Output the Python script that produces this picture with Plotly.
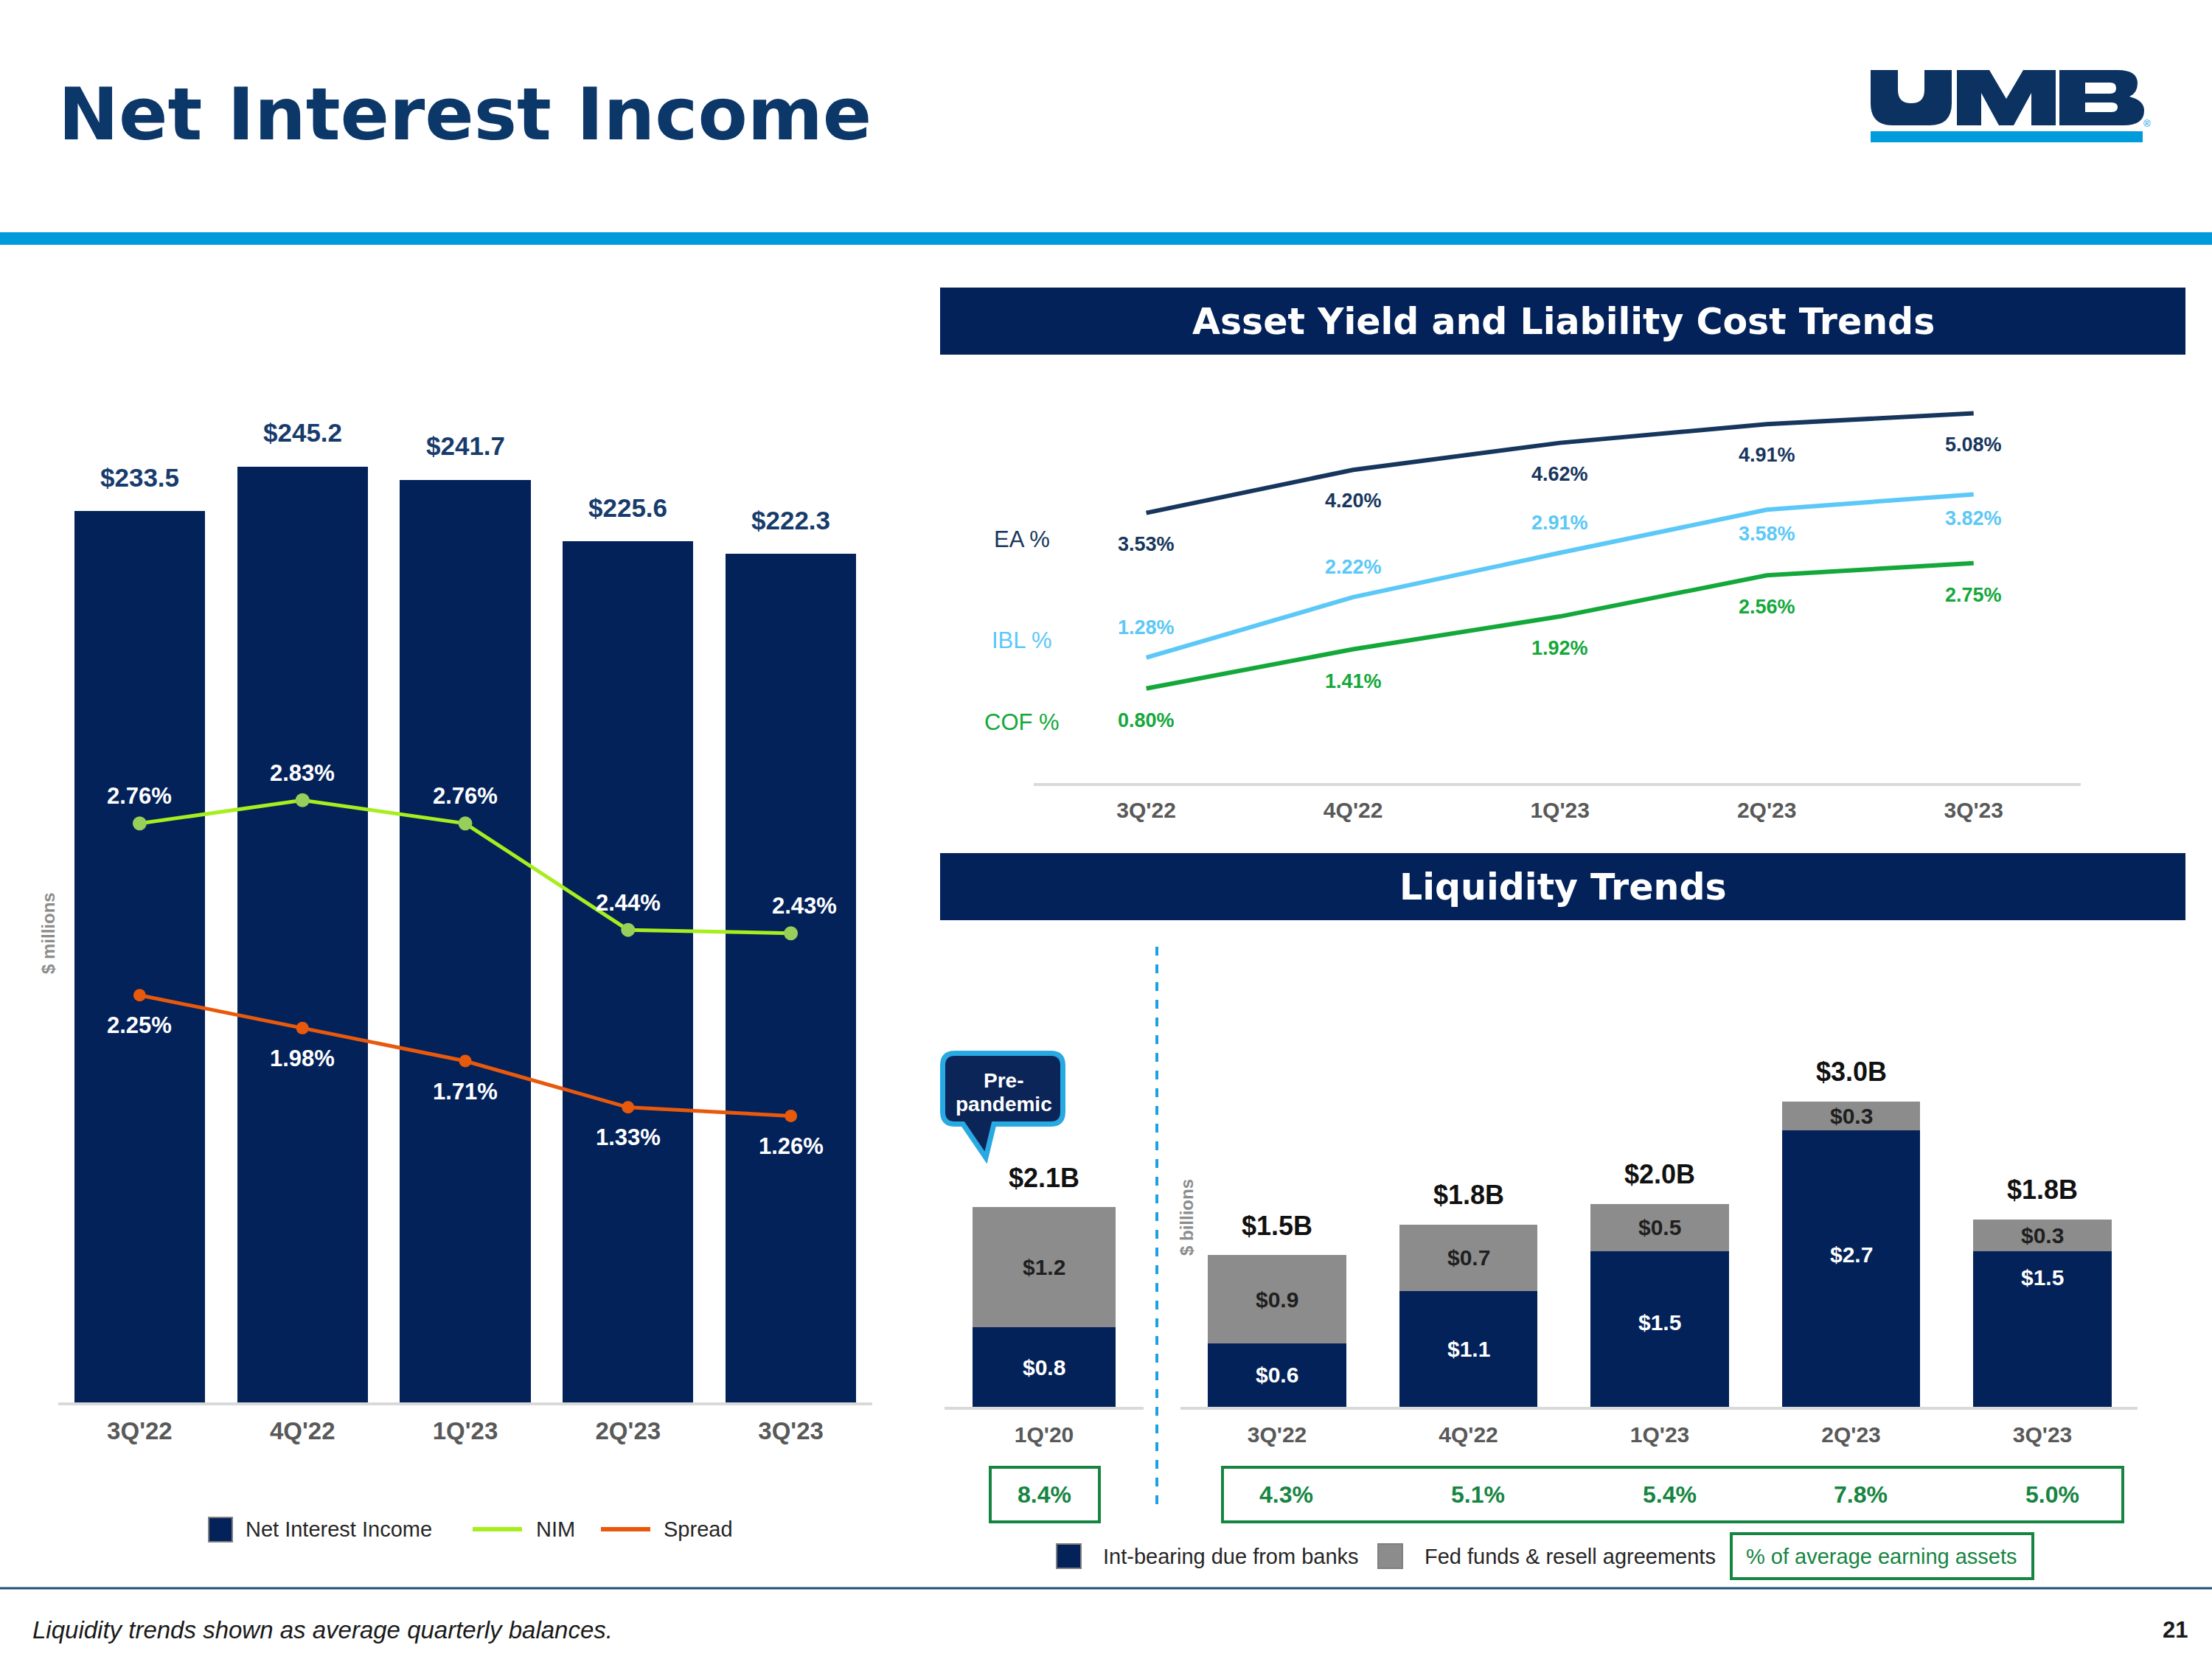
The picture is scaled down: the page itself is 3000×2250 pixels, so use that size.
import plotly.graph_objects as go

W, H = 3000, 2250

# ---------------- data ----------------
quarters = ["3Q'22", "4Q'22", "1Q'23", "2Q'23", "3Q'23"]
net_interest_income = [233.5, 245.2, 241.7, 225.6, 222.3]
nim_pct = [2.76, 2.83, 2.76, 2.44, 2.43]
spread_pct = [2.25, 1.98, 1.71, 1.33, 1.26]

ea_pct = [3.53, 4.20, 4.62, 4.91, 5.08]
ibl_pct = [1.28, 2.22, 2.91, 3.58, 3.82]
cof_pct = [0.80, 1.41, 1.92, 2.56, 2.75]

pre_quarter = ["1Q'20"]
pre_int_bearing = [0.83]
pre_fed_funds = [1.26]
pre_int_labels = ["$0.8"]
pre_fed_labels = ["$1.2"]
pre_total_labels = ["$2.1B"]
pre_pct_avg_earning = [8.4]

liq_int_bearing = [0.62, 1.13, 1.52, 2.70, 1.52]
liq_fed_funds = [0.86, 0.65, 0.46, 0.28, 0.31]
liq_int_labels = ["$0.6", "$1.1", "$1.5", "$2.7", "$1.5"]
liq_fed_labels = ["$0.9", "$0.7", "$0.5", "$0.3", "$0.3"]
liq_total_labels = ["$1.5B", "$1.8B", "$2.0B", "$3.0B", "$1.8B"]
liq_pct_avg_earning = [4.3, 5.1, 5.4, 7.8, 5.0]

# ---------------- styles ----------------
NAVY = "#03225A"
GREY_BAR = "#8C8C8C"
LIME = "#A6EE1E"
LIME_MK = "#97CF5A"
ORANGE = "#E8590C"
EA_C = "#17365D"
IBL_C = "#5CC8F7"
COF_C = "#14A83B"
BOX_GREEN = "#178542"
AXIS_GREY = "#D9D9D9"
TICK_GREY = "#595959"
LOGO_NAVY = "#0B3261"
BRIGHT_BLUE = "#009BDA"
FONT = "Liberation Sans, Arial, sans-serif"
HEAVY = "DejaVu Sans, sans-serif"


def px(x):
    return x / W


def py(y):
    return 1 - y / H


fig = go.Figure()

# ---- Net interest income (left) ----
fig.add_trace(go.Bar(x=quarters, y=net_interest_income, xaxis="x", yaxis="y",
                     marker=dict(color=NAVY, line=dict(width=0)), width=0.802,
                     hoverinfo="skip"))
fig.add_trace(go.Scatter(x=quarters, y=nim_pct, xaxis="x", yaxis="y2", mode="lines+markers",
                         line=dict(color=LIME, width=5), marker=dict(size=19, color=LIME_MK),
                         hoverinfo="skip"))
fig.add_trace(go.Scatter(x=quarters, y=spread_pct, xaxis="x", yaxis="y3", mode="lines+markers",
                         line=dict(color=ORANGE, width=5), marker=dict(size=17, color=ORANGE),
                         hoverinfo="skip"))

# ---- Asset yield / liability cost ----
for vals, col in [(ea_pct, EA_C), (ibl_pct, IBL_C), (cof_pct, COF_C)]:
    fig.add_trace(go.Scatter(x=quarters, y=vals, xaxis="x2", yaxis="y4", mode="lines",
                             line=dict(color=col, width=6), hoverinfo="skip"))

# ---- Liquidity ----
fig.add_trace(go.Bar(x=pre_quarter, y=pre_int_bearing, xaxis="x3", yaxis="y5",
                     marker=dict(color=NAVY, line=dict(width=0)), width=0.722, hoverinfo="skip"))
fig.add_trace(go.Bar(x=pre_quarter, y=pre_fed_funds, xaxis="x3", yaxis="y5",
                     marker=dict(color=GREY_BAR, line=dict(width=0)), width=0.722, hoverinfo="skip"))
fig.add_trace(go.Bar(x=quarters, y=liq_int_bearing, xaxis="x4", yaxis="y6",
                     marker=dict(color=NAVY, line=dict(width=0)), width=0.724, hoverinfo="skip"))
fig.add_trace(go.Bar(x=quarters, y=liq_fed_funds, xaxis="x4", yaxis="y6",
                     marker=dict(color=GREY_BAR, line=dict(width=0)), width=0.724, hoverinfo="skip"))


def xax(domain, rng, anchor, standoff, size=32):
    return dict(domain=domain, range=rng, anchor=anchor, type="category", showline=True,
                linecolor=AXIS_GREY, linewidth=4, ticks="", showgrid=False, zeroline=False,
                tickfont=dict(family=FONT, size=size, color=TICK_GREY, weight="bold"),
                ticklabelstandoff=standoff, fixedrange=True)


def yax(domain, rng, anchor=None, overlaying=None):
    d = dict(range=rng, visible=False, showgrid=False, zeroline=False, fixedrange=True)
    if domain is not None:
        d["domain"] = domain
    if anchor:
        d["anchor"] = anchor
    if overlaying:
        d["overlaying"] = overlaying
    return d


left_dom_y = [py(1902), py(555)]
fig.update_layout(
    xaxis=xax([px(79), px(1183)], [-0.5, 4.5], "y", 6, 33),
    yaxis=yax(left_dom_y, [0, 260.19], anchor="x"),
    yaxis2=yax(None, [1.019, 4.0058], overlaying="y"),
    yaxis3=yax(None, [-1.091, 7.058], overlaying="y"),
    xaxis2=xax([px(1402.4), px(2822.3)], [-0.5426, 4.519], "y4", 7, 30),
    yaxis4=yax([py(1061.6), py(536)], [-0.666, 5.361], anchor="x2"),
    xaxis3=xax([px(1281), px(1551)], [-0.5, 0.5], "y5", 8, 30),
    yaxis5=yax([py(1908), py(1290)], [0, 4.7685], anchor="x3"),
    xaxis4=xax([px(1601), px(2899)], [-0.5048, 4.497], "y6", 8, 30),
    yaxis6=yax([py(1908), py(1290)], [0, 4.446], anchor="x4"),
)

shapes = []
ann = []


def rect(x0, y0, x1, y1, fill=None, line_color=None, lw=0):
    shapes.append(dict(type="rect", xref="paper", yref="paper", x0=px(x0), x1=px(x1),
                       y0=py(y1), y1=py(y0), fillcolor=fill if fill else "rgba(0,0,0,0)",
                       line=dict(color=line_color if line_color else "rgba(0,0,0,0)", width=lw),
                       layer="above"))


def line(x0, y0, x1, y1, color, lw, dash="solid"):
    shapes.append(dict(type="line", xref="paper", yref="paper", x0=px(x0), x1=px(x1),
                       y0=py(y0), y1=py(y1), line=dict(color=color, width=lw, dash=dash),
                       layer="above"))


def path(pts_cmds, fill, line_color=None, lw=0, rule="evenodd"):
    shapes.append(dict(type="path", xref="paper", yref="paper", path=pts_cmds,
                       fillcolor=fill, fillrule=rule,
                       line=dict(color=line_color if line_color else "rgba(0,0,0,0)", width=lw),
                       layer="above"))


def P(x, y):
    return f"{px(x):.6f},{py(y):.6f}"


def text(x, y, s, size, color, xanchor="center", yanchor="middle", family=FONT, angle=0):
    ann.append(dict(xref="paper", yref="paper", x=px(x), y=py(y), text=s, showarrow=False,
                    xanchor=xanchor, yanchor=yanchor, textangle=angle,
                    font=dict(family=family, size=size, color=color)))


# ---- header ----
text(77, 155, "<b>Net Interest Income</b>", 98, "#0C3769", xanchor="left", family=HEAVY)
rect(0, 315, 3000, 332, fill=BRIGHT_BLUE)

# UMB logo
u = (f"M{P(2537,95)} L{P(2574,95)} L{P(2574,122)} Q{P(2574,140)} {P(2592,140)} "
     f"Q{P(2610,140)} {P(2610,122)} L{P(2610,95)} L{P(2647,95)} L{P(2647,140)} "
     f"Q{P(2647,170)} {P(2617,170)} L{P(2567,170)} Q{P(2537,170)} {P(2537,140)} Z")
path(u, LOGO_NAVY)
m = (f"M{P(2654,95)} L{P(2698,95)} L{P(2721,134)} L{P(2744,95)} L{P(2788,95)} L{P(2788,170)} "
     f"L{P(2755,170)} L{P(2755,126)} L{P(2731,170)} L{P(2711,170)} L{P(2687,126)} "
     f"L{P(2687,170)} L{P(2654,170)} Z")
path(m, LOGO_NAVY)
b = (f"M{P(2793,95)} L{P(2872,95)} Q{P(2899,95)} {P(2899,113)} Q{P(2899,126)} {P(2888,131)} "
     f"Q{P(2908,136)} {P(2908,150)} Q{P(2908,170)} {P(2880,170)} L{P(2793,170)} Z "
     f"M{P(2828,112)} L{P(2862,112)} Q{P(2870,112)} {P(2870,119.5)} Q{P(2870,127)} {P(2862,127)} "
     f"L{P(2828,127)} Z "
     f"M{P(2828,139)} L{P(2864,139)} Q{P(2872,139)} {P(2872,145.5)} Q{P(2872,152)} {P(2864,152)} "
     f"L{P(2828,152)} Z")
path(b, LOGO_NAVY)
rect(2537, 178, 2906, 193, fill=BRIGHT_BLUE)
text(2912, 168, "®", 13, BRIGHT_BLUE)

# section headers
rect(1275, 390, 2964, 481, fill=NAVY)
text(2120, 436, "<b>Asset Yield and Liability Cost Trends</b>", 49, "white", family=HEAVY)
rect(1275, 1157, 2964, 1248, fill=NAVY)
text(2120, 1203, "<b>Liquidity Trends</b>", 49, "white", family=HEAVY)

# ---- left chart labels ----
for q, v in zip(quarters, net_interest_income):
    ann.append(dict(xref="x", yref="y", x=q, y=v, yshift=46, text=f"<b>${v:.1f}</b>",
                    showarrow=False, yanchor="middle",
                    font=dict(family=FONT, size=35, color="#173C6C")))
for i, (q, v) in enumerate(zip(quarters, nim_pct)):
    ann.append(dict(xref="x", yref="y2", x=q, y=v, yshift=37, xshift=18 if i == 4 else 0,
                    text=f"<b>{v:.2f}%</b>", showarrow=False, yanchor="middle",
                    font=dict(family=FONT, size=31, color="white")))
for q, v in zip(quarters, spread_pct):
    ann.append(dict(xref="x", yref="y3", x=q, y=v, yshift=-41, text=f"<b>{v:.2f}%</b>",
                    showarrow=False, yanchor="middle",
                    font=dict(family=FONT, size=31, color="white")))
text(65, 1266, "<b>$ millions</b>", 24, "#8C8C8C", angle=-90)

# left legend
rect(283, 2058, 315, 2091, fill=NAVY, line_color="#7F7F7F", lw=2)
text(331, 2074, "Net Interest Income", 29, "#262626", xanchor="left")
line(641, 2074, 708, 2074, LIME, 6)
text(725, 2074, "NIM", 29, "#262626", xanchor="left")
line(815, 2074, 882, 2074, ORANGE, 6)
text(898, 2074, "Spread", 29, "#262626", xanchor="left")

# ---- asset yield labels ----
ibl_side = [1, 1, 1, -1, -1]
for i, q in enumerate(quarters):
    ann.append(dict(xref="x2", yref="y4", x=q, y=ea_pct[i], yshift=-42, yanchor="middle",
                    text=f"<b>{ea_pct[i]:.2f}%</b>", showarrow=False,
                    font=dict(family=FONT, size=27, color=EA_C)))
    ann.append(dict(xref="x2", yref="y4", x=q, y=ibl_pct[i], yanchor="middle",
                    yshift=41 if ibl_side[i] > 0 else -33,
                    text=f"<b>{ibl_pct[i]:.2f}%</b>", showarrow=False,
                    font=dict(family=FONT, size=27, color=IBL_C)))
    ann.append(dict(xref="x2", yref="y4", x=q, y=cof_pct[i], yshift=-43, yanchor="middle",
                    text=f"<b>{cof_pct[i]:.2f}%</b>", showarrow=False,
                    font=dict(family=FONT, size=27, color=COF_C)))
text(1386, 731, "EA %", 31, EA_C)
text(1386, 868, "IBL %", 31, IBL_C)
text(1386, 979, "COF %", 31, COF_C)


# ---- liquidity labels ----
def seg_labels(xref, yref, cats, navy, grey, navy_lab, grey_lab, tot_lab, nudge):
    for i, q in enumerate(cats):
        ann.append(dict(xref=xref, yref=yref, x=q, y=navy[i] / 2, yshift=nudge.get(q, 0),
                        text=f"<b>{navy_lab[i]}</b>", showarrow=False, yanchor="middle",
                        font=dict(family=FONT, size=30, color="white")))
        ann.append(dict(xref=xref, yref=yref, x=q, y=navy[i] + grey[i] / 2,
                        text=f"<b>{grey_lab[i]}</b>", showarrow=False, yanchor="middle",
                        font=dict(family=FONT, size=30, color="#1F1F1F")))
        ann.append(dict(xref=xref, yref=yref, x=q, y=navy[i] + grey[i], yshift=40,
                        text=f"<b>{tot_lab[i]}</b>", showarrow=False, yanchor="middle",
                        font=dict(family=FONT, size=36, color="#111111")))


seg_labels("x3", "y5", pre_quarter, pre_int_bearing, pre_fed_funds, pre_int_labels,
           pre_fed_labels, pre_total_labels, {})
seg_labels("x4", "y6", quarters, liq_int_bearing, liq_fed_funds, liq_int_labels,
           liq_fed_labels, liq_total_labels, {"1Q'23": 9, "2Q'23": 19, "3Q'23": 70})

# percent of average earning assets boxes
rect(1343, 1990, 1491, 2064, line_color=BOX_GREEN, lw=4)
rect(1658, 1990, 2879, 2064, line_color=BOX_GREEN, lw=4)
for q, v in zip(pre_quarter, pre_pct_avg_earning):
    ann.append(dict(xref="x3", yref="paper", x=q, y=py(2027), text=f"<b>{v:.1f}%</b>",
                    showarrow=False, yanchor="middle", xanchor="center",
                    font=dict(family=FONT, size=32, color=BOX_GREEN)))
for q, v in zip(quarters, liq_pct_avg_earning):
    ann.append(dict(xref="x4", yref="paper", x=q, y=py(2027), xshift=13, text=f"<b>{v:.1f}%</b>",
                    showarrow=False, yanchor="middle", xanchor="center",
                    font=dict(family=FONT, size=32, color=BOX_GREEN)))

# dashed separator
line(1569, 1284, 1569, 2047, "#1DA1E0", 4, dash="dash")
text(1609, 1651, "<b>$ billions</b>", 24, "#8C8C8C", angle=-90)

# pre-pandemic callout
callout = (f"M{P(1294,1428.5)} L{P(1425,1428.5)} Q{P(1441.5,1428.5)} {P(1441.5,1445)} "
           f"L{P(1441.5,1508)} Q{P(1441.5,1524.5)} {P(1425,1524.5)} L{P(1348,1524.5)} "
           f"L{P(1337,1570)} L{P(1306,1524.5)} L{P(1295,1524.5)} Q{P(1278.5,1524.5)} {P(1278.5,1508)} "
           f"L{P(1278.5,1445)} Q{P(1278.5,1428.5)} {P(1295,1428.5)} Z")
path(callout, "#0B2559", line_color="#29A9E1", lw=7, rule="nonzero")
text(1361, 1465, "<b>Pre-</b>", 28, "white")
text(1361, 1497, "<b>pandemic</b>", 28, "white")

# right legend
rect(1433, 2094, 1466, 2127, fill=NAVY, line_color="#7F7F7F", lw=2)
text(1494, 2111, "Int-bearing due from banks", 29, "#262626", xanchor="left")
rect(1869, 2094, 1902, 2127, fill=GREY_BAR, line_color="#7F7F7F", lw=2)
text(1930, 2111, "Fed funds &amp; resell agreements", 29, "#262626", xanchor="left")
rect(2348, 2080, 2757, 2141, line_color=BOX_GREEN, lw=4)
text(2366, 2111, "% of average earning assets", 29, BOX_GREEN, xanchor="left")

# footer
line(0, 2154, 3000, 2154, "#1F4E79", 3)
text(42, 2210, "<i>Liquidity trends shown as average quarterly balances.</i>", 33, "#1A1A1A",
     xanchor="left")
text(2969, 2210, "<b>21</b>", 31, "#1A1A1A", xanchor="right")

fig.update_layout(
    width=W, height=H, margin=dict(l=0, r=0, t=0, b=0, pad=0),
    paper_bgcolor="white", plot_bgcolor="white", showlegend=False,
    barmode="stack", bargap=0, shapes=shapes, annotations=ann,
    font=dict(family=FONT),
)

fig.write_html("out.html", config={"displayModeBar": False, "staticPlot": True},
               post_script="document.body.style.margin='0';document.body.style.overflow='hidden';")
